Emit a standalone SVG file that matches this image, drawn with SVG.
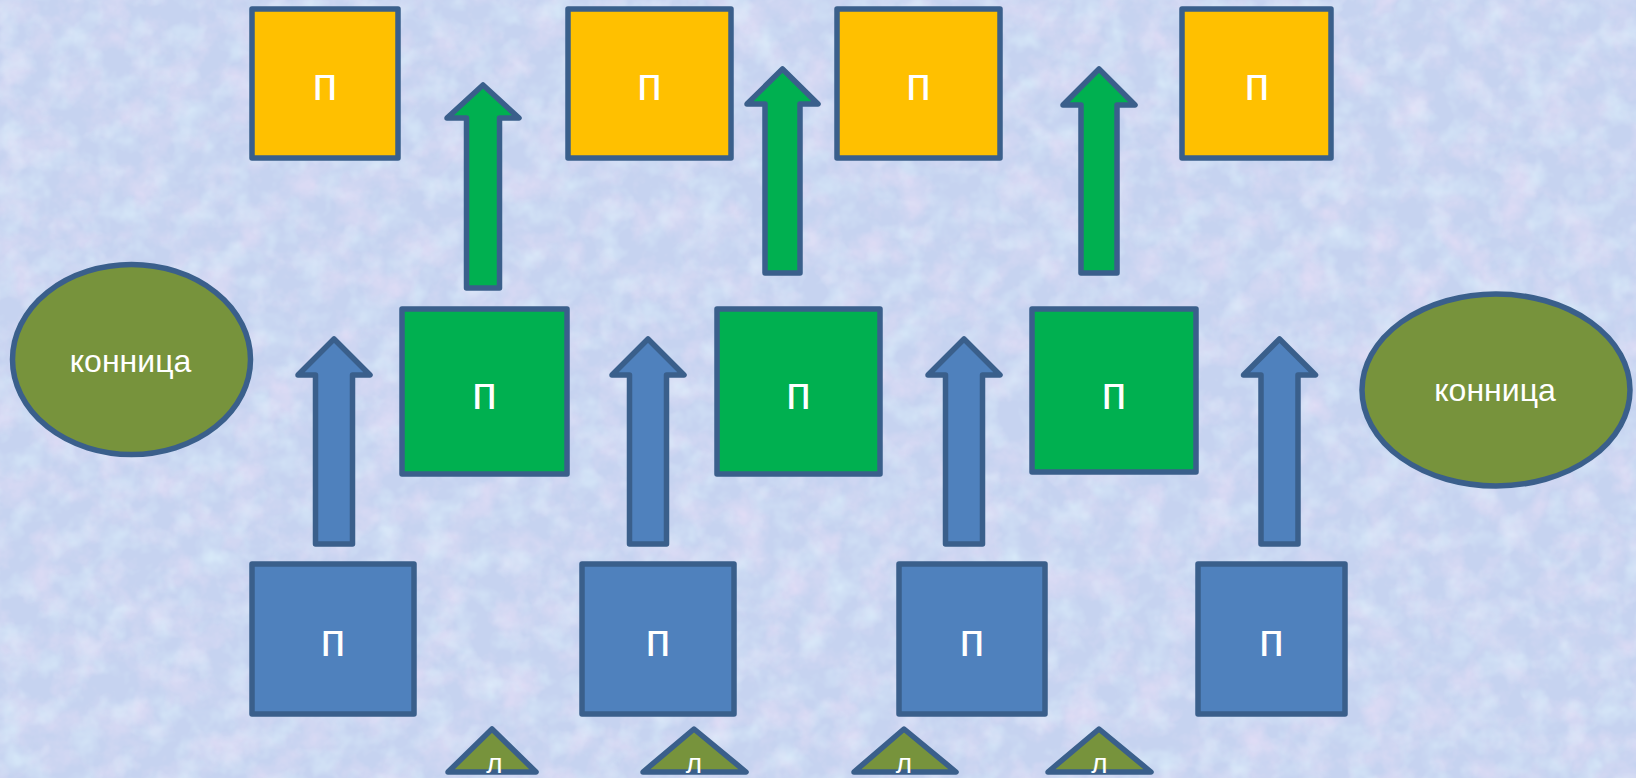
<svg xmlns="http://www.w3.org/2000/svg" width="1636" height="778" viewBox="0 0 1636 778">
<defs>
<filter id="tex" x="0" y="0" width="100%" height="100%">
<feTurbulence type="fractalNoise" baseFrequency="0.03" numOctaves="4" seed="7" result="n"/>
<feColorMatrix in="n" type="matrix" values="0 0 0 0 0.86  0 0 0 0 0.76  0 0 0 0 0.94  0.8 -0.8 0 0 0.1"/>
</filter>
<filter id="tex2" x="0" y="0" width="100%" height="100%">
<feTurbulence type="fractalNoise" baseFrequency="0.04" numOctaves="3" seed="3" result="n"/>
<feColorMatrix in="n" type="matrix" values="0 0 0 0 0.74  0 0 0 0 0.90  0 0 0 0 0.98  0 0.8 -0.8 0 0.08"/>
</filter>
<style>
.s{stroke:#3A5F8B;stroke-width:5.5;stroke-linejoin:round}
.o{fill:#FFC000}
.g{fill:#00B050}
.b{fill:#4F81BD}
.v{fill:#77933C}
.t{font-family:"Liberation Sans",Arial,sans-serif;fill:#FFFFFF;text-anchor:middle}
.p{font-size:46px}
.k{font-size:32px}
.l{font-size:28px}
</style>
</defs>
<rect width="1636" height="778" fill="#C6D3F0"/>
<rect width="1636" height="778" filter="url(#tex)"/>
<rect width="1636" height="778" filter="url(#tex2)"/>
<g id="connectors">
<path class="s g" d="M466.5,288 V118 H447 L483,85 L519,118 H499.5 V288 Z"/>
<path class="s g" d="M765,273 V104 H747 L782.5,69 L818,104 H800 V273 Z"/>
<path class="s g" d="M1081,273 V105 H1063 L1099,69 L1135,105 H1117 V273 Z"/>
<path class="s b" d="M315.5,544 V375 H298 L334,339 L370,375 H352.5 V544 Z"/>
<path class="s b" d="M629.5,544 V375 H612 L648,339 L684,375 H666.5 V544 Z"/>
<path class="s b" d="M945.5,544 V375 H928 L964,339 L1000,375 H982.5 V544 Z"/>
<path class="s b" d="M1261,544 V375 H1243.5 L1279.5,339 L1315.5,375 H1298 V544 Z"/>
</g>
<g id="o1"><rect class="s o" x="252" y="9" width="146" height="149"/><text class="t p" x="325" y="100">п</text></g>
<g id="o2"><rect class="s o" x="568" y="9" width="163" height="149"/><text class="t p" x="649.5" y="100">п</text></g>
<g id="o3"><rect class="s o" x="837" y="9" width="163" height="149"/><text class="t p" x="918.5" y="100">п</text></g>
<g id="o4"><rect class="s o" x="1182" y="9" width="149" height="149"/><text class="t p" x="1257" y="100">п</text></g>
<g id="g1"><rect class="s g" x="402" y="309" width="165" height="165"/><text class="t p" x="484.5" y="409">п</text></g>
<g id="g2"><rect class="s g" x="717" y="309" width="163" height="165"/><text class="t p" x="798.5" y="409">п</text></g>
<g id="g3"><rect class="s g" x="1032" y="309" width="164" height="163"/><text class="t p" x="1114" y="409">п</text></g>
<g id="b1"><rect class="s b" x="252" y="564" width="162" height="150"/><text class="t p" x="333" y="656">п</text></g>
<g id="b2"><rect class="s b" x="582" y="564" width="152" height="150"/><text class="t p" x="658" y="656">п</text></g>
<g id="b3"><rect class="s b" x="899" y="564" width="146" height="150"/><text class="t p" x="972" y="656">п</text></g>
<g id="b4"><rect class="s b" x="1198" y="564" width="147" height="150"/><text class="t p" x="1271.5" y="656">п</text></g>
<g id="e1"><ellipse class="s v" cx="131.5" cy="359.5" rx="119" ry="95"/><text class="t k" x="130.5" y="372">конница</text></g>
<g id="e2"><ellipse class="s v" cx="1496" cy="390" rx="134" ry="96"/><text class="t k" x="1495" y="401">конница</text></g>
<g id="t1"><path class="s v" d="M492,729 L536,772 H448 Z"/><text class="t l" x="494.5" y="773">л</text></g>
<g id="t2"><path class="s v" d="M694,729 L746,772 H643 Z"/><text class="t l" x="694" y="773">л</text></g>
<g id="t3"><path class="s v" d="M904,729 L956,772 H854 Z"/><text class="t l" x="904" y="773">л</text></g>
<g id="t4"><path class="s v" d="M1099,729 L1151,772 H1048 Z"/><text class="t l" x="1099.5" y="773">л</text></g>
</svg>
